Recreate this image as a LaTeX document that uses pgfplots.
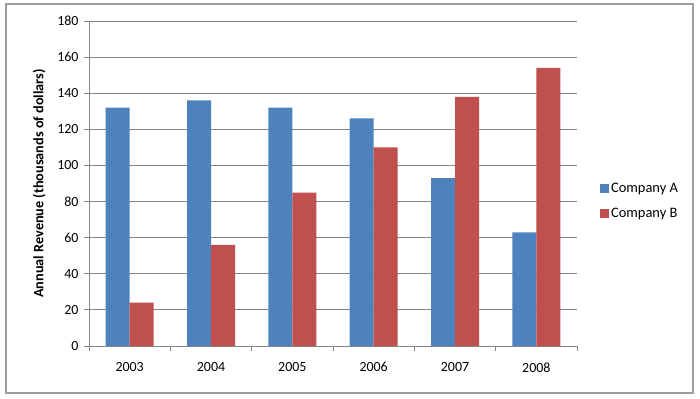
\documentclass[border=0pt]{standalone}
\usepackage{fontspec}
\setmainfont{Carlito}
\usepackage{pgfplots}
\pgfplotsset{compat=1.18}
\definecolor{cA}{HTML}{4F81BD}
\definecolor{cB}{HTML}{C0504D}
\definecolor{gridc}{HTML}{868686}
\begin{document}
\begin{tikzpicture}[x=1bp,y=1bp]
\useasboundingbox (0,0) rectangle (700,398);
\draw[color=gridc!80, line width=1.2bp] (6,5) rectangle (693,394);
\begin{axis}[
  at={(89bp,52bp)}, anchor=south west,
  width=488bp, height=325bp, scale only axis,
  ymin=0, ymax=180, ytick={0,20,...,180},
  xmin=-0.5, xmax=5.5,
  xtick={0,...,5}, xticklabels={2003,2004,2005,2006,2007,2008},
  major x tick style={draw=none},
  minor xtick={-0.5,0.5,...,5.5},
  minor x tick style={color=gridc, line width=0.8bp},
  minor tick length=5bp,
  major tick length=5bp,
  tick align=outside,
  ytick style={color=gridc, line width=0.8bp},
  axis x line*=bottom, axis y line*=left,
  axis line style={color=gridc, line width=0.8bp, -},
  ymajorgrids, grid style={color=gridc, line width=0.8bp},
  ybar=0pt, bar width=24bp,
  tick label style={font=\fontsize{14}{16}\selectfont, /pgf/number format/assume math mode=true},
  xticklabel style={yshift=-8bp},
  yticklabel style={xshift=-2bp},
  ylabel={\bfseries Annual Revenue (thousands of dollars)},
  ylabel style={font=\fontsize{14.3}{16}\selectfont},
  ylabel shift=5bp,
  legend style={at={(1.047,0.446)}, anchor=west, draw=none, fill=none, font=\fontsize{14.5}{16}\selectfont, row sep=10bp, inner sep=0pt},
  legend cell align=left,
  legend image code/.code={\fill[#1] (0bp,-4.5bp) rectangle (9bp,4.5bp);},
]
\addplot[fill=cA, draw=none] coordinates {(0,132) (1,136) (2,132) (3,126) (4,93) (5,63)};
\addplot[fill=cB, draw=none] coordinates {(0,24) (1,56) (2,85) (3,110) (4,138) (5,154)};
\legend{Company A, Company B}
\end{axis}
\end{tikzpicture}
\end{document}
